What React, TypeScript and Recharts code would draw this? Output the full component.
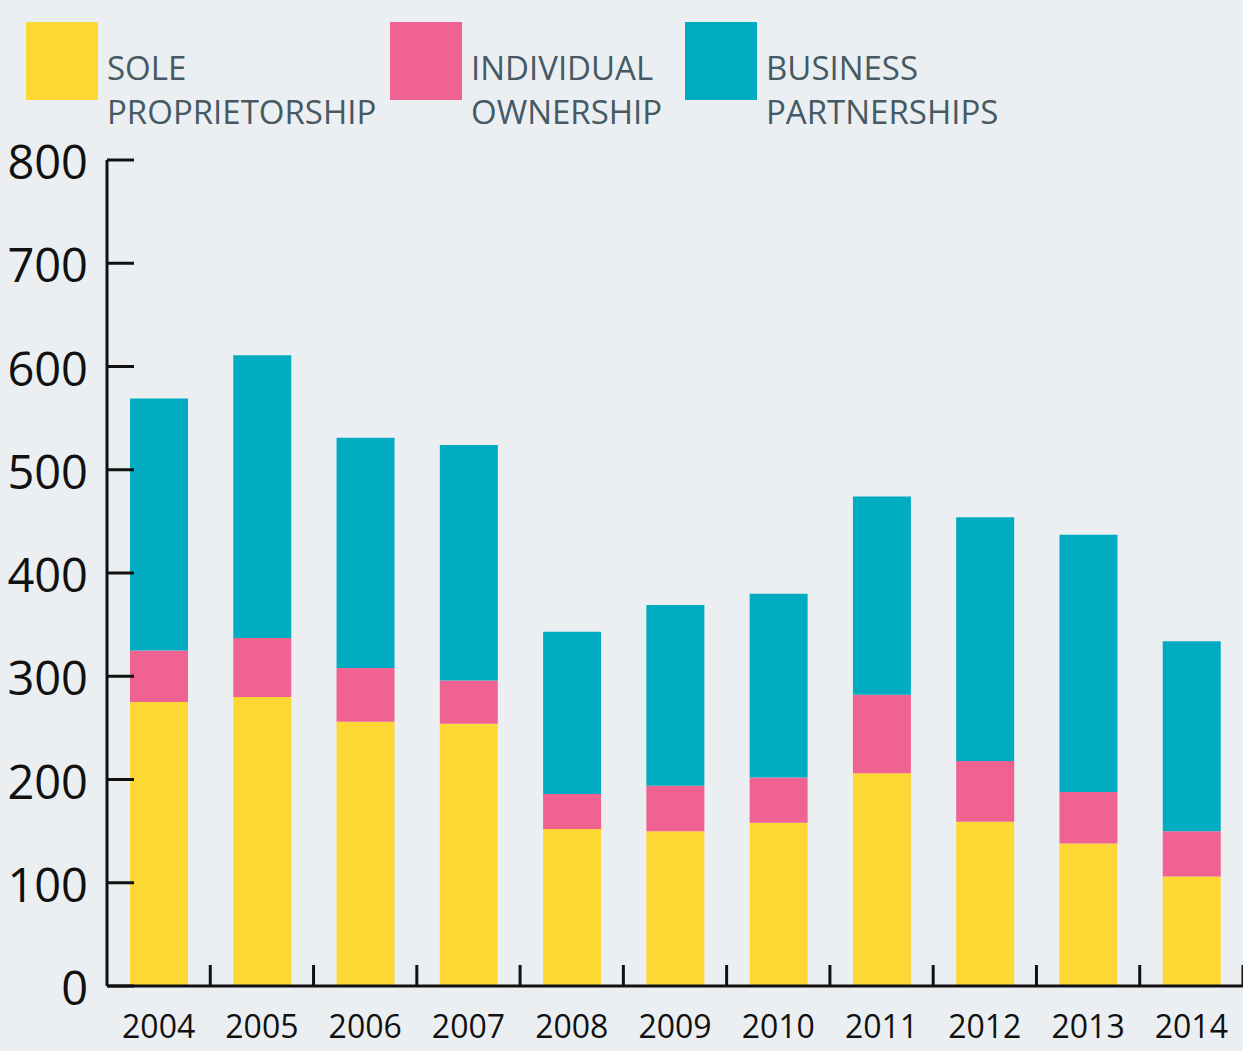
import { Bar, BarChart, XAxis, YAxis } from "recharts";

const years = ["2004", "2005", "2006", "2007", "2008", "2009", "2010", "2011", "2012", "2013", "2014"];
const sole = [275, 280, 256, 254, 152, 150, 158, 206, 159, 138, 106];
const individual = [50, 57, 52, 42, 34, 44, 44, 76, 59, 50, 44];
const business = [244, 274, 223, 228, 157, 175, 178, 192, 236, 249, 184];
const yTicks = [0, 100, 200, 300, 400, 500, 600, 700, 800];

const series = [
  { key: "sole", label: ["SOLE", "PROPRIETORSHIP"], color: "#FDD835", left: 26 },
  { key: "individual", label: ["INDIVIDUAL", "OWNERSHIP"], color: "#F06292", left: 390 },
  { key: "business", label: ["BUSINESS", "PARTNERSHIPS"], color: "#00ACC1", left: 685 }
];

const data = years.map((year, i) => ({
  year,
  sole: sole[i],
  individual: individual[i],
  business: business[i]
}));

const W = 1243;
const H = 1051;
const AXIS_W = 107;
const BAND = (W - AXIS_W) / years.length;
const INK = "#111";
const FONT = "'Open Sans', sans-serif";

function YTick({ x, y, payload }: any) {
  return (
    <g>
      <line x1={x} x2={x + 27} y1={y} y2={y} stroke={INK} strokeWidth={3} />
      <text x={x - 19} y={y + 19} textAnchor="end" fontSize={47} fill={INK} fontFamily={FONT}>
        {payload.value}
      </text>
    </g>
  );
}

function XTick({ x, y, payload }: any) {
  const bx = x + BAND / 2;
  return (
    <g>
      <line x1={bx} x2={bx} y1={y - 21} y2={y} stroke={INK} strokeWidth={3} />
      <text x={x} y={y + 52} textAnchor="middle" fontSize={32} fill={INK} fontFamily={FONT}>
        {payload.value}
      </text>
    </g>
  );
}

export default function App() {
  return (
    <div style={{ position: "fixed", inset: 0, background: "#ECEFF1", fontFamily: FONT }}>
      {series.map((s) => (
        <div key={s.key}>
          <div style={{ position: "absolute", left: s.left, top: 22, width: 72, height: 78, background: s.color }} />
          <div
            style={{
              position: "absolute",
              left: s.left + 81,
              top: 46,
              fontSize: 33,
              lineHeight: "44px",
              color: "#455A64",
              whiteSpace: "nowrap"
            }}
          >
            {s.label[0]}
            <br />
            {s.label[1]}
          </div>
        </div>
      ))}
      <div style={{ position: "absolute", left: 0, top: 0 }}>
        <BarChart width={W} height={H} data={data} margin={{ top: 160, right: 0, bottom: 0, left: 0 }} barSize={58}>
          <XAxis
            dataKey="year"
            height={65}
            axisLine={{ stroke: INK, strokeWidth: 3 }}
            tickLine={false}
            tickSize={0}
            tickMargin={0}
            interval={0}
            tick={<XTick />}
          />
          <YAxis
            width={AXIS_W}
            domain={[0, 800]}
            ticks={yTicks}
            axisLine={{ stroke: INK, strokeWidth: 3 }}
            tickLine={false}
            tickSize={0}
            tickMargin={0}
            tick={<YTick />}
          />
          {series.map((s) => (
            <Bar key={s.key} dataKey={s.key} stackId="a" fill={s.color} isAnimationActive={false} />
          ))}
        </BarChart>
      </div>
    </div>
  );
}
